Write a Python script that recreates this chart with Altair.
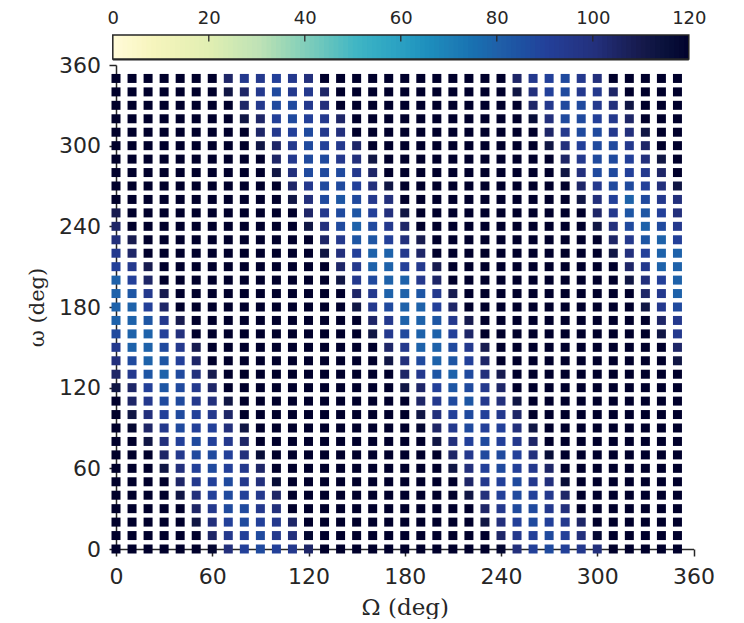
import altair as alt
import pandas as pd

# Level codes -> value on the colour scale
codes = {'.': 120, 'a': 118, 'b': 116, '1': 112, 'c': 109, '2': 104, 'd': 100,
         '3': 94, 'e': 90, '4': 87, 'f': 83, '5': 79}

omega_left = [
    ".......233e3d.....", ".......1234332....", "........23443d....", "........12e4e32...",
    ".........23e43d...", ".........1234e32..", "..........23443d1.", "..........1d44432.",
    "...........2344ed1", "...........1d4f43d", "c...........234fed", "2...........1d4543",
    "dc...........23ffe", "32...........1de55", "e3c...........2355", "5e2...........1345",
    "5f3c...........235", "55e2...........134", "55f3c...........23", "455ed...........13",
    "35543c...........2", "d45fe2...........1", "23f54dc...........", "12ef432...........",
    ".23443d1..........", ".1de4e32..........", ".a234eed1.........", "..1de4e32.........",
    "...2344edb........", "...1de4e32........", "....23e43db.......", "....1de4e32.......",
    ".....23443d.......", ".....1de4e32......", "......23e43da.....", "......ade4e32.....",
]
omega_right = [
    ".......23e43d.....", ".......1de4332....", "........23443d1...", "........bd44e32...",
    ".........23443d1..", ".........1de4432..", "..........2344ed1.", "..........1d44e32.",
    "...........2344ed1", "...........1de543d", "1...........23ffed", "2...........1d4543",
    "dc...........23f5e", "32...........1de55", "e3c...........2355", "532...........1de5",
    "5f3c...........235", "55e2...........134", "55f3c...........23", "455e2...........13",
    "35543c...........2", "d45fe2...........1", "23f54dc...........", "12ef432...........",
    ".234f3d1..........", ".1de4e32..........", ".a234eed1.........", "..1de4e32.........",
    "...2344edb........", "...1de4e32........", "....23e43db.......", "....1de4e32.......",
    ".....23443d.......", ".....1de4e32......", "......23e4eda.....", "......ade4e3d.....",
]
big_omega = list(range(0, 360, 10))
small_omega = list(range(350, -10, -10))
axis_ticks = [0, 60, 120, 180, 240, 300, 360]
bar_ticks = [0, 20, 40, 60, 80, 100, 120]
bar_levels = list(range(120))

stop_values = [0, 8, 20, 30, 40, 50, 60, 70, 80, 90, 100, 110, 120]
stop_colors = ["#fffbd7", "#f6f5bd", "#e0eeb2", "#bfe2b6", "#7fcdbb", "#41b6c4", "#2a9fc2",
               "#1e7fb6", "#205fa8", "#234099", "#23307c", "#15194a", "#00002b"]

rows = []
for w, left, right in zip(small_omega, omega_left, omega_right):
    for O, ch in zip(big_omega, left + right):
        rows.append({"O": O, "w": w, "v": codes[ch]})
df = pd.DataFrame(rows)

INK = "#262626"
color_scale = alt.Scale(domain=stop_values, range=stop_colors)
W, H = 577.5, 484
bar_range = [-3.2, 572.8]
bar_top, bar_bottom = -30, -6

main = alt.Chart(df).mark_square(size=81, opacity=1, strokeWidth=0).encode(
    x=alt.X("O:Q", scale=alt.Scale(domain=[0, 360], nice=False),
            axis=alt.Axis(values=axis_ticks, title="Ω (deg)", grid=False, labelFlush=False,
                          tickSize=7, tickWidth=1.5, domainWidth=1.5, domainColor=INK, tickColor=INK,
                          labelColor=INK, labelFontSize=22, labelFont="DejaVu Sans", labelPadding=10,
                          titleFont="DejaVu Serif", titleFontSize=23, titleFontWeight="normal",
                          titleColor=INK, titlePadding=9)),
    y=alt.Y("w:Q", scale=alt.Scale(domain=[0, 360], nice=False),
            axis=alt.Axis(values=axis_ticks, title="ω (deg)", grid=False,
                          tickSize=7, tickWidth=1.5, domainWidth=1.5, domainColor=INK, tickColor=INK,
                          labelColor=INK, labelFontSize=22, labelFont="DejaVu Sans", labelPadding=8.5,
                          titleFont="DejaVu Serif", titleFontSize=21, titleFontWeight="normal",
                          titleColor=INK, titlePadding=11)),
    color=alt.Color("v:Q", scale=color_scale, legend=None),
)

bar_df = pd.DataFrame({"a": bar_levels, "b": [min(v + 2, 120) for v in bar_levels]})
bar_x = alt.Scale(domain=[0, 120], range=bar_range, nice=False)

colorbar = alt.Chart(bar_df).mark_rect(strokeWidth=0).encode(
    x=alt.X("a:Q", scale=bar_x,
            axis=alt.Axis(orient="top", values=bar_ticks, title=None, grid=False, domain=False, ticks=False,
                          offset=30, labelPadding=8, labelFontSize=18, labelColor=INK,
                          labelFont="DejaVu Sans", labelFlush=False)),
    x2="b:Q",
    y=alt.value(bar_top),
    y2=alt.value(bar_bottom),
    color=alt.Color("a:Q", scale=color_scale, legend=None),
)

bar_tick_marks = alt.Chart(pd.DataFrame({"t": bar_ticks[1:-1]})).mark_rule(color=INK, strokeWidth=1.25).encode(
    x=alt.X("t:Q", scale=bar_x, axis=None),
    y=alt.value(bar_top),
    y2=alt.value(bar_top + 6.5),
)

bar_frame = alt.Chart(pd.DataFrame({"a": [0], "b": [120]})).mark_rect(
    fillOpacity=0, stroke=INK, strokeWidth=1.5).encode(
    x=alt.X("a:Q", scale=bar_x, axis=None),
    x2="b:Q",
    y=alt.value(bar_top),
    y2=alt.value(bar_bottom),
)

bar_edge = alt.Chart(pd.DataFrame({"a": [0], "b": [120]})).mark_rule(color=INK, strokeWidth=1.5).encode(
    x=alt.X("a:Q", scale=bar_x, axis=None),
    x2="b:Q",
    y=alt.value(bar_bottom + 0.8),
)

chart = alt.layer(main, colorbar, bar_tick_marks, bar_frame, bar_edge).resolve_scale(
    x="independent"
).properties(
    width=W, height=H, background="white",
    padding={"left": 18, "top": 1, "right": 0, "bottom": 0},
).configure_view(stroke=None)

chart.save("out.html", embed_options={"renderer": "svg", "actions": False})
